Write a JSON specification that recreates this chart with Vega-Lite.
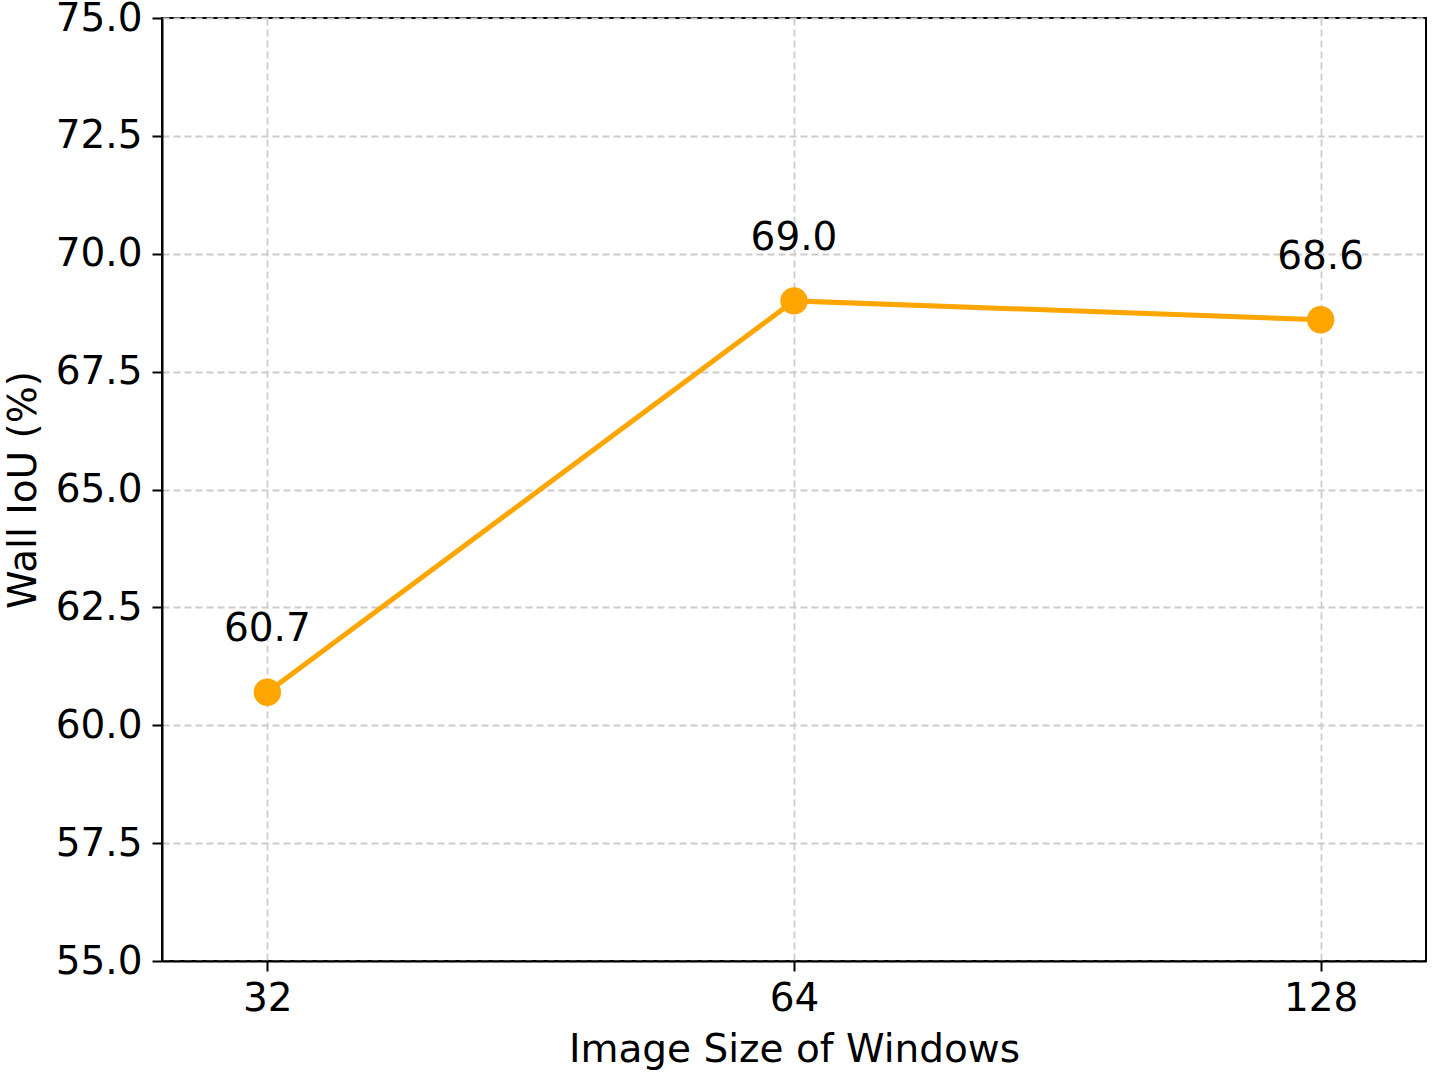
{
  "$schema": "https://vega.github.io/schema/vega-lite/v6.json",
  "width": 1264,
  "height": 943,
  "autosize": {"type": "none"},
  "padding": {"left": 162, "top": 18, "right": 6, "bottom": 112},
  "background": "white",
  "config": {
    "font": "DejaVu Sans",
    "view": {"stroke": "black", "strokeWidth": 2},
    "axis": {
      "labelFont": "DejaVu Sans",
      "titleFont": "DejaVu Sans",
      "labelFontSize": 39,
      "titleFontSize": 39,
      "labelColor": "black",
      "titleColor": "black",
      "titleFontWeight": "normal",
      "domainColor": "black",
      "domainWidth": 2,
      "tickColor": "black",
      "tickWidth": 2,
      "tickSize": 10,
      "gridColor": "#cccccc",
      "gridDash": [7, 4],
      "gridWidth": 1.8
    }
  },
  "data": {
    "values": [
      {"size": "32", "iou": 60.7},
      {"size": "64", "iou": 69.0},
      {"size": "128", "iou": 68.6}
    ]
  },
  "encoding": {
    "x": {
      "field": "size",
      "type": "ordinal",
      "sort": null,
      "scale": {"type": "point", "padding": 0.2},
      "axis": {"title": "Image Size of Windows", "labelAngle": 0, "labelPadding": 8, "titlePadding": 12, "grid": true}
    },
    "y": {
      "field": "iou",
      "type": "quantitative",
      "scale": {"domain": [55, 75], "zero": false, "nice": false},
      "axis": {"title": "Wall IoU (%)", "values": [55, 57.5, 60, 62.5, 65, 67.5, 70, 72.5, 75], "format": ".1f", "labelPadding": 10, "titlePadding": 12, "grid": true}
    }
  },
  "layer": [
    {"mark": {"type": "line", "color": "#FFA500", "strokeWidth": 5}},
    {"mark": {"type": "point", "filled": true, "color": "#FFA500", "opacity": 1, "size": 750}},
    {
      "mark": {"type": "text", "fontSize": 39, "font": "DejaVu Sans", "color": "black", "baseline": "alphabetic", "align": "center", "dy": -51},
      "encoding": {"text": {"field": "iou", "type": "quantitative", "format": ".1f"}}
    }
  ]
}
